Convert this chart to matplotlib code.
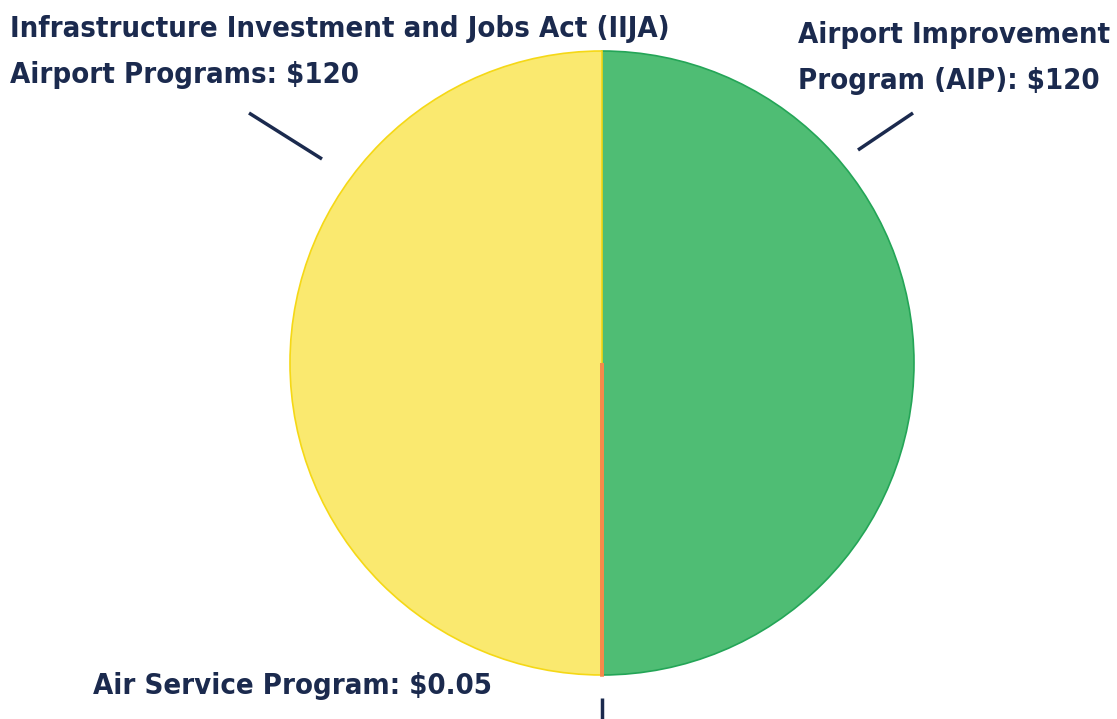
import matplotlib
matplotlib.use("Agg")
import matplotlib.pyplot as plt

# data
programs = ["Airport Improvement\nProgram (AIP)", "Air Service Program",
            "Infrastructure Investment and Jobs Act (IIJA)\nAirport Programs"]
amounts = [120, 0.05, 120]
amount_labels = ["$120", "$0.05", "$120"]

fills = ["#4fbd74", "#f58a4b", "#fae96f"]
edges = ["#24a557", "#f58a4b", "#f5d816"]
navy = "#1b2a4e"

W, H = 1117, 719
fig = plt.figure(figsize=(W / 100, H / 100), dpi=100)
ax = fig.add_axes([0, 0, 1, 1])

cx, cy, r = 602, H - 363, 312
wedges, _ = ax.pie(amounts, colors=fills, startangle=90, counterclock=False,
                   center=(cx, cy), radius=r, frame=True)
for w, ec in zip(wedges, edges):
    w.set_edgecolor(ec)
    w.set_linewidth(1.2)
# tiny slice: thicker outline so it shows, on top of its neighbours
wedges[1].set_linewidth(2.5)
wedges[1].set_zorder(5)
ax.set_xlim(0, W)
ax.set_ylim(0, H)
ax.set_aspect("equal")
ax.axis("off")

font = dict(family="DejaVu Sans", fontstretch="condensed", fontweight="bold",
            color=navy, fontsize=21)

def img(y):
    return H - y

# labels and leader lines
ax.text(798, img(58), f"{programs[0]}: {amount_labels[0]}", ha="left", va="center",
        linespacing=1.8, **font)
ax.plot([858, 913], [img(150), img(113)], color=navy, lw=2.5, solid_capstyle="butt")

ax.text(10, img(52), f"{programs[2]}: {amount_labels[2]}", ha="left", va="center",
        linespacing=1.8, **font)
ax.plot([249, 322], [img(113), img(159)], color=navy, lw=2.5, solid_capstyle="butt")

ax.text(93, img(686), f"{programs[1]}: {amount_labels[1]}", ha="left", va="center", **font)
ax.plot([602, 602], [img(698), img(725)], color=navy, lw=2.5, solid_capstyle="butt")

fig.savefig("out.png", dpi=100, facecolor="white")
